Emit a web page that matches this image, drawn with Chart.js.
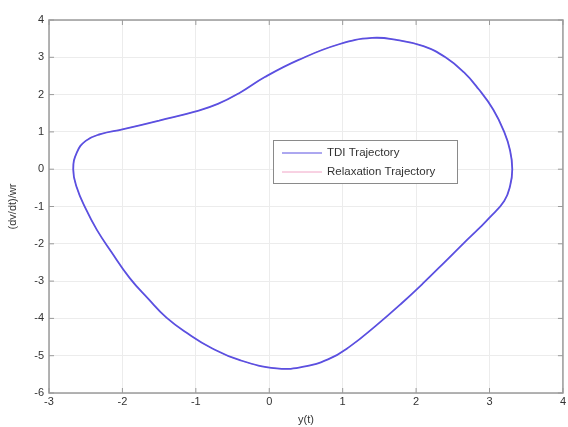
<!DOCTYPE html>
<html>
<head>
<meta charset="utf-8">
<script src="https://cdn.jsdelivr.net/npm/chart.js@4"></script>
<style>
  html, body { margin: 0; padding: 0; background: #fff; }
  #wrap { width: 568px; height: 427px; }
</style>
</head>
<body>
<div id="wrap"><canvas id="phase"></canvas></div>
<script>
// trajectory points, clockwise, starting on the flat upper-left stretch
const yt = [-1.5,-1.0,-0.7,-0.4,-0.06,0.4,0.95,1.4,1.75,2.1,2.4,2.65,2.85,3.05,3.2,3.28,3.31,3.28,3.2,3.0,2.85,2.65,2.4,2.1,1.8,1.45,1.1,0.8,0.45,0.1,-0.4,-0.8,-1.1,-1.4,-1.65,-1.9,-2.15,-2.35,-2.5,-2.62,-2.67,-2.62,-2.5,-2.3,-2.0,-1.5];
const dvdt = [1.3,1.55,1.75,2.05,2.47,2.93,3.35,3.52,3.46,3.3,3.0,2.6,2.15,1.6,1.0,0.5,0.0,-0.45,-0.85,-1.3,-1.6,-1.98,-2.47,-3.05,-3.6,-4.2,-4.75,-5.1,-5.3,-5.34,-5.12,-4.78,-4.42,-3.98,-3.47,-2.92,-2.22,-1.62,-1.06,-0.5,0.0,0.45,0.76,0.94,1.07,1.3];
const seriesNames = ['TDI Trajectory', 'Relaxation Trajectory'];
const xTicks = [-3,-2,-1,0,1,2,3,4];
const yTicks = [-6,-5,-4,-3,-2,-1,0,1,2,3,4];

const toPts = (xs, ys) => xs.map((x, i) => ({x: x, y: ys[i]}));

// box, inward ticks and legend inside the axes, matlab style
const matlabBox = {
    id: 'matlabBox',
    afterDraw: (chart) => {
        const ctx = chart.ctx;
        const a = chart.chartArea;
        const sx = chart.scales.x, sy = chart.scales.y;
        ctx.save();
        ctx.strokeStyle = '#9a9a9a';
        ctx.lineWidth = 1.5;
        ctx.strokeRect(a.left, a.top, a.right - a.left, a.bottom - a.top);
        ctx.lineWidth = 1;
        xTicks.forEach(v => {
            const p = sx.getPixelForValue(v);
            ctx.beginPath();
            ctx.moveTo(p, a.bottom); ctx.lineTo(p, a.bottom - 5);
            ctx.moveTo(p, a.top); ctx.lineTo(p, a.top + 5);
            ctx.stroke();
        });
        yTicks.forEach(v => {
            const p = sy.getPixelForValue(v);
            ctx.beginPath();
            ctx.moveTo(a.left, p); ctx.lineTo(a.left + 5, p);
            ctx.moveTo(a.right, p); ctx.lineTo(a.right - 5, p);
            ctx.stroke();
        });

        // legend
        const lx = 273, ly = 140, lw = 184, lh = 43;
        ctx.fillStyle = '#fff';
        ctx.fillRect(lx, ly, lw, lh);
        ctx.strokeStyle = '#8a8a8a';
        ctx.lineWidth = 1;
        ctx.strokeRect(lx + 0.5, ly + 0.5, lw, lh);
        ctx.font = '11.5px "Liberation Sans", Arial, sans-serif';
        ctx.textBaseline = 'middle';
        chart.data.datasets.forEach((ds, i) => {
            const yy = ly + 13 + i * 19;
            ctx.strokeStyle = ds.borderColor;
            ctx.lineWidth = 1;
            ctx.beginPath();
            ctx.moveTo(lx + 9, yy); ctx.lineTo(lx + 49, yy);
            ctx.stroke();
            ctx.fillStyle = '#333';
            ctx.fillText(ds.label, lx + 54, yy);
        });
        ctx.restore();
    }
};

new Chart(document.getElementById('phase'), {
    type: 'scatter',
    data: {
        datasets: [
            {
                label: seriesNames[0],
                data: toPts(yt, dvdt),
                showLine: true,
                borderColor: 'rgb(90, 80, 225)',
                borderWidth: 1.8,
                pointRadius: 0,
                tension: 0.45
            },
            {
                label: seriesNames[1],
                data: toPts(yt, dvdt),
                showLine: true,
                borderColor: 'rgba(235, 125, 175, 0.7)',
                borderWidth: 1,
                pointRadius: 0,
                tension: 0.45
            }
        ]
    },
    options: {
        responsive: true,
        maintainAspectRatio: false,
        animation: false,
        layout: { padding: { top: 20, right: 2, left: 0, bottom: 0 } },
        plugins: {
            legend: { display: false },
            tooltip: { enabled: false }
        },
        scales: {
            x: {
                type: 'linear',
                min: -3, max: 4,
                afterFit: (s) => { s.height = 34; },
                afterBuildTicks: (s) => { s.ticks = xTicks.map(v => ({value: v})); },
                ticks: { color: '#333', font: { size: 11, family: '"Liberation Sans", Arial' }, padding: 2 },
                grid: { color: '#ececec', tickLength: 0 },
                border: { display: false },
                title: { display: true, text: 'y(t)', color: '#333', font: { size: 11, family: '"Liberation Sans", Arial' }, padding: { top: 2, bottom: 0 } }
            },
            y: {
                type: 'linear',
                min: -6, max: 4,
                afterFit: (s) => { s.width = 49; },
                afterBuildTicks: (s) => { s.ticks = yTicks.map(v => ({value: v})); },
                ticks: { color: '#333', font: { size: 11, family: '"Liberation Sans", Arial' }, padding: 5 },
                grid: { color: '#ececec', tickLength: 0 },
                border: { display: false },
                title: { display: true, text: '(dv/dt)/wr', color: '#333', font: { size: 11, family: '"Liberation Sans", Arial' }, padding: { top: 6, bottom: 6 } }
            }
        }
    },
    plugins: [matlabBox]
});
</script>
</body>
</html>
